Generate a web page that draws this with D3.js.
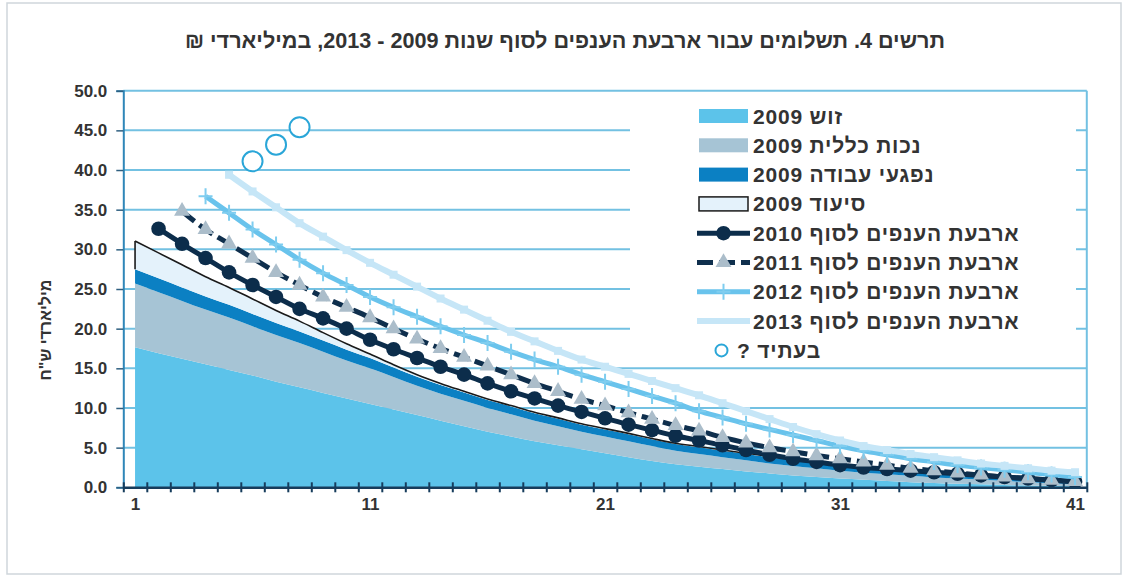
<!DOCTYPE html>
<html lang="he">
<head>
<meta charset="utf-8">
<script src="https://cdn.jsdelivr.net/npm/d3@7"></script>
<style>
  html, body { margin: 0; padding: 0; background: #ffffff; }
  svg { display: block; font-family: "Liberation Sans", Arial, sans-serif; }
</style>
</head>
<body>
<svg id="chart" width="1128" height="578"></svg>
<script>
// ---------------- DATA ----------------
const categories = [1,2,3,4,5,6,7,8,9,10,11,12,13,14,15,16,17,18,19,20,21,22,23,24,25,26,27,28,29,30,31,32,33,34,35,36,37,38,39,40,41];
const xTickLabels = [1, 11, 21, 31, 41];
const yTickValues = [0, 5, 10, 15, 20, 25, 30, 35, 40, 45, 50];

// stacked areas, 2009 (components)
const zuz2009 = [17.65,16.9,16.2,15.5,14.8,14.1,13.3,12.6,11.9,11.2,10.5,9.8,9.1,8.4,7.7,7.0,6.4,5.8,5.3,4.8,4.3,3.8,3.3,2.9,2.6,2.3,2.0,1.75,1.5,1.3,1.1,0.95,0.8,0.65,0.55,0.45,0.38,0.3,0.24,0.18,0.12];
const nekhut2009 = [8.05,7.7,7.3,6.9,6.6,6.2,5.9,5.6,5.2,4.8,4.5,4.1,3.7,3.4,3.2,3.0,2.8,2.6,2.4,2.2,2.1,2.0,1.9,1.7,1.6,1.5,1.4,1.25,1.2,1.1,1.0,0.9,0.85,0.8,0.7,0.65,0.57,0.5,0.41,0.32,0.28];
const nifgaei2009 = [1.8,1.75,1.7,1.65,1.6,1.55,1.5,1.45,1.4,1.35,1.3,1.2,1.15,1.1,1.05,1.0,1.0,0.95,0.95,0.9,0.9,0.9,0.85,0.85,0.85,0.8,0.8,0.8,0.75,0.75,0.75,0.7,0.7,0.7,0.65,0.6,0.55,0.5,0.45,0.4,0.35];
const siud2009 = [3.56,3.2,2.85,2.5,2.2,1.9,1.6,1.3,1.0,0.75,0.5,0.35,0.25,0.2,0.15,0.12,0.1,0.1,0.1,0.1,0.1,0.1,0.1,0.1,0.1,0.1,0.1,0.1,0.1,0.1,0.08,0.08,0.08,0.08,0.08,0.06,0.06,0.06,0.06,0.05,0.05];

// lines: four branches at end of year
const end2010 = [null,32.6,30.7,28.9,27.1,25.5,24.0,22.5,21.3,20.0,18.6,17.4,16.3,15.2,14.2,13.1,12.1,11.2,10.3,9.5,8.7,7.9,7.2,6.5,5.9,5.3,4.7,4.1,3.6,3.2,2.8,2.5,2.3,2.1,1.9,1.7,1.5,1.3,1.1,0.9,0.7];
const end2011 = [null,null,34.8,32.5,30.7,28.9,27.1,25.5,24.0,22.7,21.4,20.0,18.7,17.5,16.4,15.3,14.2,13.1,12.1,11.1,10.3,9.4,8.6,7.8,7.1,6.3,5.6,5.0,4.5,4.0,3.6,3.2,2.8,2.4,2.1,1.8,1.55,1.3,1.1,0.9,0.75];
const end2012 = [null,null,null,36.7,34.6,32.5,30.6,28.7,27.0,25.5,24.0,22.7,21.5,20.3,19.2,18.2,17.1,16.1,15.2,14.2,13.3,12.4,11.5,10.6,9.6,8.8,8.0,7.3,6.6,5.9,5.2,4.6,4.1,3.6,3.2,2.8,2.5,2.2,1.9,1.6,1.3];
const end2013 = [null,null,null,null,39.4,37.3,35.3,33.3,31.6,29.9,28.3,26.8,25.3,23.8,22.4,21.0,19.6,18.4,17.2,16.1,15.2,14.3,13.4,12.5,11.6,10.6,9.6,8.6,7.6,6.7,5.9,5.2,4.7,4.2,3.8,3.4,3.0,2.7,2.4,2.1,1.9];

// future ("בעתיד ?")
const futureCats = [6, 7, 8];
const futureVals = [41.1, 43.2, 45.4];

// texts
const titleText = "תרשים 4. תשלומים עבור ארבעת הענפים לסוף שנות 2009 - 2013, במיליארדי ₪";
const yAxisTitle = "מיליארדי ש\"ח";
const legendLabels = ["זוש 2009", "נכות כללית 2009", "נפגעי עבודה 2009", "סיעוד 2009",
  "ארבעת הענפים לסוף 2010", "ארבעת הענפים לסוף 2011", "ארבעת הענפים לסוף 2012", "ארבעת הענפים לסוף 2013", "בעתיד ?"];

// ---------------- LAYOUT ----------------
const svg = d3.select("#chart");
const plot = { left: 123.3, right: 1086.8, top: 90.7, bottom: 487.3 };

const col = {
  zuz: "#5cc3ea", nekhut: "#a6c4d5", nifgaei: "#0b80c3", siud: "#e4f2fb",
  l2010: "#0c2d4b", l2011: "#0f2f4d", tri: "#abbdca", l2012: "#69c3ec", plus: "#7fcdef",
  l2013: "#c6e6f7", future: "#2aa6d8", grid: "#73c1e2", text: "#333333"
};

const x = d3.scaleLinear().domain([0.5, 41.5]).range([plot.left, plot.right]);
const y = d3.scaleLinear().domain([0, 50]).range([plot.bottom, plot.top]);

// outer frame
svg.append("rect").attr("x", 7).attr("y", 3).attr("width", 1114).attr("height", 571)
  .attr("fill", "none").attr("stroke", "#cfd6db").attr("stroke-width", 1.5);

// title
svg.append("text")
  .attr("x", 565).attr("y", 48)
  .attr("text-anchor", "middle").attr("direction", "rtl")
  .attr("font-size", 21.5).attr("font-weight", "bold").attr("fill", col.text)
  .attr("textLength", 760).attr("lengthAdjust", "spacingAndGlyphs")
  .text(titleText);

// gridlines
svg.append("g").selectAll("line").data(yTickValues.filter(v => v > 0)).join("line")
  .attr("x1", plot.left).attr("x2", plot.right)
  .attr("y1", d => y(d)).attr("y2", d => y(d))
  .attr("stroke", col.grid).attr("stroke-width", 2);
// right border
svg.append("line").attr("x1", plot.right).attr("x2", plot.right)
  .attr("y1", plot.top).attr("y2", plot.bottom)
  .attr("stroke", col.grid).attr("stroke-width", 2);

// legend background (hides gridlines)
svg.append("rect").attr("x", 630).attr("y", 95).attr("width", 446).attr("height", 270).attr("fill", "#ffffff");

// stacked areas
const table = categories.map((c, i) => ({ cat: c, zuz: zuz2009[i], nekhut: nekhut2009[i], nifgaei: nifgaei2009[i], siud: siud2009[i] }));
const keys = ["zuz", "nekhut", "nifgaei", "siud"];
const stacked = d3.stack().keys(keys)(table);
const area = d3.area().curve(d3.curveMonotoneX)
  .x(d => x(d.data.cat)).y0(d => y(d[0])).y1(d => y(d[1]));
svg.append("g").selectAll("path").data(stacked).join("path")
  .attr("d", area).attr("fill", d => col[d.key]);
// siud outline (top + left edge)
const siudLayer = stacked[3];
const topLine = d3.line().curve(d3.curveMonotoneX).x(d => x(d.data.cat)).y(d => y(d[1]));
svg.append("path").attr("d", topLine(siudLayer)).attr("fill", "none").attr("stroke", "#1a1a1a").attr("stroke-width", 1.6);
svg.append("line")
  .attr("x1", x(siudLayer[0].data.cat)).attr("x2", x(siudLayer[0].data.cat))
  .attr("y1", y(siudLayer[0][0])).attr("y2", y(siudLayer[0][1]))
  .attr("stroke", "#1a1a1a").attr("stroke-width", 1.6);

// lines
function seriesPts(arr) { return categories.map((c, i) => ({ cat: c, v: arr[i] })).filter(d => d.v != null); }
const line = d3.line().curve(d3.curveMonotoneX).x(d => x(d.cat)).y(d => y(d.v));

const g = svg.append("g");
// 2010
const p2010 = seriesPts(end2010);
g.append("path").attr("d", line(p2010)).attr("fill", "none").attr("stroke", col.l2010).attr("stroke-width", 5);
g.append("g").selectAll("circle").data(p2010).join("circle")
  .attr("cx", d => x(d.cat)).attr("cy", d => y(d.v)).attr("r", 7.3).attr("fill", col.l2010);
// 2011
const p2011 = seriesPts(end2011);
g.append("path").attr("d", line(p2011)).attr("fill", "none").attr("stroke", col.l2011).attr("stroke-width", 5)
  .attr("stroke-dasharray", "16,6");
const tri = d3.symbol().type(d3.symbolTriangle).size(110);
g.append("g").selectAll("path").data(p2011).join("path")
  .attr("transform", d => `translate(${x(d.cat)},${y(d.v)})`).attr("d", tri).attr("fill", col.tri);
// 2012
const p2012 = seriesPts(end2012);
g.append("path").attr("d", line(p2012)).attr("fill", "none").attr("stroke", col.l2012).attr("stroke-width", 5);
g.append("g").selectAll("path").data(p2012).join("path")
  .attr("transform", d => `translate(${x(d.cat)},${y(d.v)})`)
  .attr("d", "M0,-8V8M-7,0H7").attr("stroke", col.plus).attr("stroke-width", 2);
// 2013
const p2013 = seriesPts(end2013);
g.append("path").attr("d", line(p2013)).attr("fill", "none").attr("stroke", col.l2013).attr("stroke-width", 6);
g.append("g").selectAll("rect").data(p2013).join("rect")
  .attr("x", d => x(d.cat) - 4).attr("y", d => y(d.v) - 4).attr("width", 8).attr("height", 8)
  .attr("fill", col.l2013);
// future circles
g.append("g").selectAll("circle").data(futureCats.map((c, i) => ({ cat: c, v: futureVals[i] }))).join("circle")
  .attr("cx", d => x(d.cat)).attr("cy", d => y(d.v)).attr("r", 10)
  .attr("fill", "#ffffff").attr("stroke", col.future).attr("stroke-width", 2);

// y axis
const yAxis = svg.append("g").attr("transform", `translate(${plot.left},0)`)
  .call(d3.axisLeft(y).tickValues(yTickValues).tickFormat(d3.format(".1f")).tickSize(7).tickPadding(9));
yAxis.select(".domain").attr("stroke", "#2f86b8").attr("stroke-width", 2);
yAxis.selectAll(".tick line").attr("stroke", "#2f5f80").attr("stroke-width", 1.5);
yAxis.selectAll(".tick text").attr("font-size", 17).attr("font-weight", "bold").attr("fill", col.text)
  .attr("font-family", "'Liberation Sans', Arial, sans-serif");

// x axis: boundary ticks crossing the axis
const boundaries = categories.map(c => c - 0.5).concat([41.5]);
const xAxis = svg.append("g").attr("transform", `translate(0,${plot.bottom})`)
  .call(d3.axisBottom(x).tickValues(boundaries).tickFormat("").tickSizeOuter(0));
xAxis.select(".domain").attr("stroke", "#163c5c").attr("stroke-width", 2.5);
xAxis.selectAll(".tick line").attr("y1", -5).attr("y2", 5).attr("stroke", "#163c5c").attr("stroke-width", 2);
const xLab = svg.append("g").attr("transform", `translate(0,${plot.bottom})`)
  .call(d3.axisBottom(x).tickValues(xTickLabels).tickFormat(d3.format("d")).tickSize(0).tickPadding(11));
xLab.select(".domain").remove();
xLab.selectAll(".tick text").attr("font-size", 17).attr("font-weight", "bold").attr("fill", col.text)
  .attr("font-family", "'Liberation Sans', Arial, sans-serif");

// y axis title
svg.append("text").attr("transform", "translate(51,330) rotate(-90)")
  .attr("text-anchor", "middle").attr("direction", "rtl")
  .attr("font-size", 16).attr("font-weight", "bold").attr("fill", col.text)
  .text(yAxisTitle);

// legend
const rowY = legendLabels.map((_, i) => 116 + i * 29.3);
const lg = svg.append("g");
const swL = 697, swR = 750, swM = 723.5;
[col.zuz, col.nekhut, col.nifgaei].forEach((c, i) => {
  lg.append("rect").attr("x", 699).attr("y", rowY[i] - 7).attr("width", 49).attr("height", 14).attr("fill", c);
});
lg.append("rect").attr("x", 699).attr("y", rowY[3] - 7).attr("width", 49).attr("height", 14)
  .attr("fill", col.siud).attr("stroke", "#1a1a1a").attr("stroke-width", 1.5);
lg.append("line").attr("x1", swL).attr("x2", swR).attr("y1", rowY[4]).attr("y2", rowY[4]).attr("stroke", col.l2010).attr("stroke-width", 5);
lg.append("circle").attr("cx", swM).attr("cy", rowY[4]).attr("r", 7.3).attr("fill", col.l2010);
lg.append("line").attr("x1", swL).attr("x2", swR).attr("y1", rowY[5]).attr("y2", rowY[5]).attr("stroke", col.l2011).attr("stroke-width", 5).attr("stroke-dasharray", "16,6");
lg.append("path").attr("transform", `translate(${swM},${rowY[5]})`).attr("d", tri).attr("fill", col.tri);
lg.append("line").attr("x1", swL).attr("x2", swR).attr("y1", rowY[6]).attr("y2", rowY[6]).attr("stroke", col.l2012).attr("stroke-width", 5);
lg.append("path").attr("transform", `translate(${swM},${rowY[6]})`).attr("d", "M0,-8V8M-7,0H7").attr("stroke", col.plus).attr("stroke-width", 2);
lg.append("line").attr("x1", swL).attr("x2", swR).attr("y1", rowY[7]).attr("y2", rowY[7]).attr("stroke", col.l2013).attr("stroke-width", 6);
lg.append("circle").attr("cx", 721.5).attr("cy", rowY[8]).attr("r", 6).attr("fill", "#ffffff").attr("stroke", col.future).attr("stroke-width", 2);

legendLabels.forEach((t, i) => {
  const left = i === 8 ? 737 : 753;
  const tx = lg.append("text").attr("y", rowY[i]).attr("dy", "0.36em")
    .attr("direction", "rtl").attr("text-anchor", "start")
    .attr("font-size", 21).attr("letter-spacing", 0.8).attr("font-weight", "bold").attr("fill", col.text).text(t);
  const w = tx.node().getComputedTextLength();
  tx.attr("x", left + w);
});
</script>
</body>
</html>
